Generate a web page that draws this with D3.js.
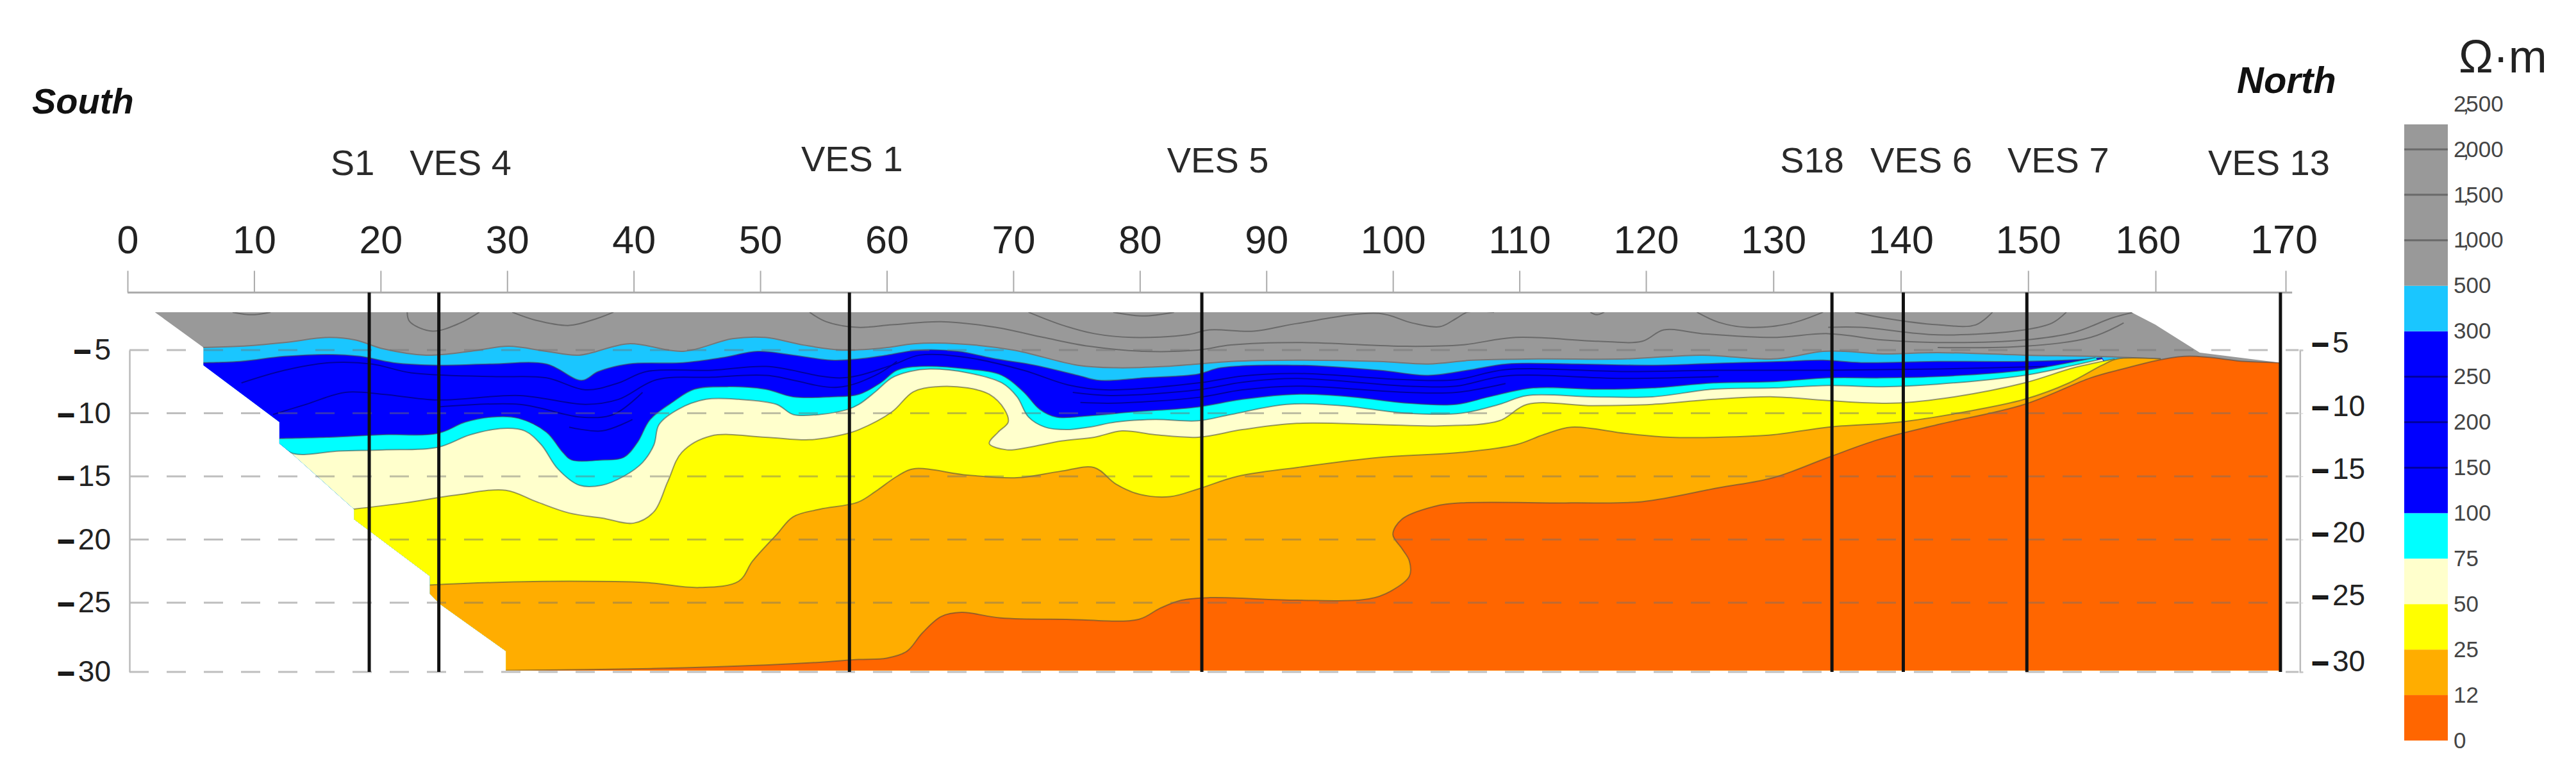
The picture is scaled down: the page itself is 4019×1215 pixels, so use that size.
<!DOCTYPE html>
<html>
<head>
<meta charset="utf-8">
<title>Resistivity section</title>
<style>
    html, body { margin: 0; padding: 0; background: #fff; }
    svg { display: block; }
    text { font-family: "Liberation Sans", Arial, sans-serif; }
</style>
<script src="https://d3js.org/d3.v7.min.js"></script>
</head>
<body>
<script>
// distance along the profile (m) and depth (m)
var xTicks = [0,10,20,30,40,50,60,70,80,90,100,110,120,130,140,150,160,170];
var depthTicks = [-5,-10,-15,-20,-25,-30];

var soundingNames = ["S1","VES 4","VES 1","VES 5","S18","VES 6","VES 7","VES 13"];
var soundingDist = [19.1,24.6,57.05,84.9,134.6,140.2,149.9,169.6];

var levels = ["0","12","25","50","75","100","150","200","250","300","500","1,000","1,500","2,000","2,500"];
var bandColors = ["#ff6600","#ffad00","#ffff00","#ffffcc","#00ffff","#0000ff","#0000ff","#0000ff","#0000ff","#1ac6ff","#999999","#999999","#999999","#999999"];

// outline of the inverted section
var outline = [[2.16,-2],[6,-4.8],[6,-6.2],[12,-10.7],[12,-12.4],[13.1,-13.3],[17.9,-17.6],[17.9,-18.4],[23.9,-22.9],[23.9,-24.3],[24.7,-25.1],[29.9,-28.5],[29.9,-29.9],[169.6,-29.9],[169.6,-6],[163.4,-5.2],[160,-3],[158.1,-2]];

// top edge of each layer, from the most resistive down
var top300to500 = [[5.9,-4.8],[8.9,-4.7],[12.4,-4.4],[15.9,-4],[18,-4.2],[20.2,-4.9],[23.6,-5.4],[27.1,-5.1],[30.1,-4.7],[33.1,-5.1],[35.7,-5.4],[39.6,-4.5],[43.9,-5.1],[47.8,-4.1],[50.4,-4],[53.4,-4.6],[56.5,-5],[60,-4.8],[62.1,-4.5],[65.6,-4.5],[70,-5],[75.1,-6.2],[78.1,-6.4],[82,-6.3],[84.6,-6.1],[87.2,-5.9],[92.4,-5.8],[98.9,-5.9],[102.8,-6.1],[106.3,-5.8],[111.5,-5.7],[118.4,-5.7],[124.4,-5.4],[130,-5.7],[133.9,-5.1],[135.6,-5.1],[138.6,-5.3],[142.9,-5.2],[149.7,-5.4],[155.3,-5.5],[160.4,-5.7]];
var top100to300 = [[5.9,-6],[8.9,-5.9],[12.4,-5.5],[15.9,-5.35],[18.4,-5.5],[21,-6],[24.5,-6.2],[28.8,-6.1],[33.1,-6.1],[35.9,-7.4],[37.2,-6.7],[39.6,-6.1],[43.9,-6],[47,-5.6],[49.8,-5.1],[52.6,-5.4],[55.6,-5.8],[57.8,-5.7],[60,-5.4],[62.6,-5],[65.6,-5.1],[68.6,-5.7],[71.7,-6.2],[75.1,-7],[76.8,-7.4],[80.3,-7.2],[84.6,-6.9],[86.4,-6.4],[92.4,-6.2],[98.9,-6.6],[102.8,-7],[105.9,-6.6],[109,-6.1],[114.1,-6.1],[120.5,-6.2],[125.5,-6.05],[130.9,-5.9],[133.9,-5.8],[136.9,-6],[142.9,-5.9],[149.7,-5.9],[154.9,-5.7],[155.8,-5.6]];
var top75to100 = [[11.9,-12],[15.9,-11.9],[20.2,-11.7],[24.5,-11.6],[26.7,-10.7],[28.8,-10.3],[30.9,-10.4],[33.1,-11.5],[34.4,-13.1],[35.1,-13.7],[37.5,-13.7],[39.2,-13.5],[40.3,-12.3],[41.3,-10.5],[43.1,-9.1],[44.8,-8.1],[47.4,-7.9],[50.4,-8.1],[52.6,-8.7],[55.6,-8.7],[57.8,-8.5],[59.5,-7.6],[60.8,-6.6],[62.6,-6.3],[66.4,-6.5],[69.1,-7],[70.8,-8.3],[72.1,-9.7],[73.4,-10.3],[76,-10.2],[79.4,-9.9],[84.6,-9.5],[88.1,-8.9],[92.4,-8.5],[96.7,-8.7],[101.1,-9.2],[105,-9.3],[107.6,-8.7],[111.1,-8],[116.2,-8.1],[120.5,-8],[125.3,-7.6],[130,-7.5],[134.3,-7.2],[138.6,-7.2],[142.9,-7.1],[149.7,-6.6],[153.2,-6],[155.3,-5.6]];
var top50to75 = [[11.9,-12.4],[13.1,-13.2],[16.7,-13],[20.2,-12.9],[24.5,-12.7],[27.1,-11.7],[29.7,-11.2],[31.4,-11.4],[32.7,-12.5],[34,-14.4],[35.7,-15.7],[37.5,-15.7],[39.2,-15],[40.7,-13.9],[41.6,-12.5],[42,-10.9],[43.5,-9.7],[45.7,-8.9],[48.3,-8.9],[51.3,-9.3],[52.6,-10.1],[54.7,-10.1],[56.9,-9.7],[57.8,-9.3],[59.1,-8.3],[60.4,-7.2],[61.8,-6.7],[63.4,-6.5],[66.4,-6.8],[69.1,-7.6],[70.3,-8.7],[71.2,-10.3],[72.5,-11.1],[74.2,-11.3],[76,-11.1],[78.1,-10.7],[81.2,-10.5],[84.6,-10.6],[87.2,-10.1],[91.6,-9.3],[95.9,-9.4],[101.1,-10],[105.4,-10],[108.4,-9.3],[110.6,-8.6],[115.8,-8.7],[120.5,-8.7],[125.3,-8.1],[130,-8],[134.3,-7.8],[138.6,-7.9],[142.9,-7.7],[149.7,-7],[153.6,-6.2],[155.8,-5.7]];
var top25to50 = [[17.8,-17.6],[21.9,-17.1],[25.8,-16.5],[29.9,-16.1],[32.3,-17],[34.9,-17.9],[37.5,-18.3],[40,-18.7],[41.6,-17.8],[42.7,-15.4],[43.8,-13.1],[46.1,-11.8],[50.4,-11.9],[53.9,-12.1],[56.5,-11.7],[57.8,-11.3],[60.4,-9.9],[62.1,-8.3],[63.9,-7.9],[66.4,-8],[68.1,-8.5],[69.3,-9.7],[69.6,-10.7],[68.8,-11.5],[68.1,-12.4],[69.5,-12.9],[71.2,-12.7],[73.8,-12.2],[76.4,-11.9],[78.6,-11.4],[81.2,-11.7],[84.6,-11.9],[88.1,-11.3],[92.4,-10.8],[98.9,-10.9],[103.7,-11],[108.4,-10.6],[110.6,-9.3],[115.8,-9.4],[120.5,-9.3],[125.3,-8.9],[130,-8.7],[134.3,-9],[139.4,-9.2],[144.2,-8.7],[149.7,-7.6],[153.6,-6.4],[156.8,-5.7]];
var top12to25 = [[23.8,-23.6],[28.8,-23.4],[34.9,-23.3],[40.9,-23.4],[45.2,-23.8],[48.3,-23.3],[49.4,-21.7],[51.3,-19.6],[52.6,-18.2],[54.7,-17.6],[57.7,-17.05],[59.1,-16.2],[60.8,-15],[62.1,-14.4],[66.4,-14.9],[70.3,-15.1],[73.7,-14.6],[76.4,-14.3],[78.1,-15.6],[79.9,-16.4],[82.4,-16.6],[84.6,-16],[87.7,-15],[92.4,-14.3],[98.9,-13.5],[105.4,-13.1],[109.7,-12.5],[111.9,-11.7],[114.1,-11.1],[118.4,-11.6],[121.9,-11.9],[125.7,-11.9],[130,-11.7],[134.3,-11.1],[139.9,-10.7],[145,-9.9],[149.7,-8.9],[153.2,-7.6],[155.8,-6.2],[157,-5.7],[160.4,-5.7]];
var top0to12 = [[29.8,-29.9],[41.8,-29.75],[50.4,-29.5],[54.7,-29.3],[57.8,-29.1],[60,-29],[61.6,-28.5],[62.8,-27.2],[64.3,-26],[65.9,-25.7],[69,-26.1],[74.2,-26.2],[79.9,-26.2],[81.6,-25.4],[83.3,-24.8],[85.5,-24.6],[92.4,-24.8],[98.1,-24.7],[99.8,-24.1],[101.3,-22.9],[101.3,-21.7],[100.7,-20.7],[100,-19.6],[100.7,-18.4],[103.2,-17.4],[105.4,-17.1],[114.1,-17.1],[119.7,-17],[125.7,-15.9],[130,-15.1],[134.3,-13.5],[138.2,-12.1],[142.9,-10.9],[149.7,-9.3],[154.9,-7.2],[157,-6.6],[162.2,-5.5],[166.9,-5.9],[169.7,-6]];

var layerTops = [top300to500,top100to300,top75to100,top50to75,top25to50,top12to25,top0to12];
var layerColors = ["#1ac6ff","#0000ff","#00ffff","#ffffcc","#ffff00","#ffad00","#ff6600"];

// contour lines inside the grey band
var grayContours = [
    [[8.3,-2],[9.8,-2.2],[11.3,-2]],
    [[22.1,-2],[22.3,-2.75],[24.1,-3.5],[26.3,-2.85],[27.8,-2]],
    [[30.4,-2],[32.3,-2.65],[34.9,-3.05],[37.1,-2.5],[38.4,-2]],
    [[53.9,-2],[55.2,-2.75],[57.7,-3.2],[60.4,-3],[64.3,-2.75],[68.6,-3.2],[72.4,-4],[76,-4.7],[80.3,-5.1],[84.6,-5],[87.2,-4.6],[92.4,-4.4],[101.1,-4.7],[105.4,-4.6],[109.7,-4],[116.2,-4.3],[119.7,-4.3],[121.4,-3.4],[124.4,-3.7],[130,-4],[134.3,-3.7],[138.6,-4.2],[142.9,-4.4],[149.7,-4.2],[153.6,-3.6],[156.6,-2.45],[158.3,-2]],
    [[71.2,-2],[73.8,-3],[76.4,-3.7],[79.4,-4],[83.7,-3.8],[85.5,-3.4],[89,-3.5],[92.4,-2.9],[98.9,-2.1],[101.5,-2.85],[103.7,-3.15],[105,-2.5],[105.9,-2],[108,-2]],
    [[77.9,-2],[80.3,-2.3],[82.7,-2]],
    [[115.6,-2],[116.1,-2.2],[116.7,-2]],
    [[124,-2],[125.7,-2.8],[127.9,-3.2],[131.3,-2.9],[133.9,-2]],
    [[136.4,-2],[138.6,-2.45],[142.9,-3],[145.9,-3],[147.2,-2]],
    [[134.3,-3.2],[136.9,-3.2],[142.9,-3.8],[149.7,-3.4],[151.9,-2.85],[153,-2]],
    [[142.9,-4.8],[149.7,-4.7],[154.9,-4],[157.5,-2.85]]
];

// contour lines inside the blue band
var blueContours = [
    [[9,-7.6],[12.4,-6.6],[15.9,-6],[19.3,-6.1],[22.4,-6.8],[28.8,-7.1],[33.1,-7.2],[36.2,-8.15],[38.8,-7.6],[41,-6.7],[46.2,-6.6],[50.5,-6.3],[56.5,-7.2],[60.4,-6.2],[62.6,-5.4],[66.4,-5.6],[70.8,-6.6],[74.3,-7.75],[77.3,-8.15],[84.6,-7.6],[88.1,-7.05],[92.4,-6.85],[101.1,-7.35],[105,-7.35],[108.9,-6.55],[118.4,-6.7],[125.7,-6.6],[134.3,-6.6],[142.9,-6.5],[151.5,-6.3]],
    [[11.5,-10.1],[14.1,-9.3],[17.2,-8.35],[20.2,-8.5],[24.5,-8.95],[31,-8.6],[36.2,-9.3],[38.8,-8.9],[41.8,-7.35],[46.2,-7.15],[50.5,-7],[56.1,-7.95],[59.1,-7],[60.8,-5.9]],
    [[74.7,-8.35],[77.7,-8.6],[84.6,-8.15],[88.1,-7.55],[92.4,-7.25],[101.1,-7.85],[105,-7.85],[108.9,-7.05],[118.4,-7.25],[125.7,-7.1]],
    [[24.5,-9.5],[31,-9.3],[35.8,-10.3],[38.4,-10.1],[40.7,-8.35]],
    [[75.3,-9.15],[78.1,-9.2],[84.6,-8.75],[88.1,-8.15],[92.4,-7.85],[101.1,-8.35],[105,-8.35],[108.9,-7.65]],
    [[34.9,-11.1],[37.5,-11.4],[39.9,-10.5]]
];

var width = 4019;
var height = 1215;

// the source image is not quite evenly spaced, so both scales are piecewise
var x = d3.scaleLinear().domain([0,120,160,170]).range([199,2568,3363,3566]);
var y = d3.scaleLinear().domain([-30,-25,-5]).range([1048,940,546]);

var svg = d3.select("body").append("svg")
    .attr("width", width)
    .attr("height", height);

svg.append("clipPath").attr("id", "section")
    .append("polygon")
    .attr("points", outline.map(function(d) { return x(d[0]) + "," + y(d[1]); }).join(" "));

var line = d3.line()
    .x(function(d) { return x(d[0]); })
    .y(function(d) { return y(d[1]); })
    .curve(d3.curveCatmullRom.alpha(0.5));

var g = svg.append("g").attr("clip-path", "url(#section)");

// grey band first, then each layer painted over it
g.append("rect")
    .attr("x", x(0)).attr("y", y(0))
    .attr("width", x(171) - x(0))
    .attr("height", y(-31) - y(0))
    .attr("fill", "#999999");

g.selectAll(".gray-contour").data(grayContours).enter().append("path")
    .attr("class", "gray-contour")
    .attr("d", line)
    .attr("fill", "none")
    .attr("stroke", "#6a6a6a")
    .attr("stroke-width", 2);

layerTops.forEach(function(top, i) {
    var close = "L" + x(171) + "," + y(-31) + "L" + x(0) + "," + y(-31) + "Z";
    g.append("path")
        .attr("d", line(top) + close)
        .attr("fill", layerColors[i]);
    g.append("path")
        .attr("d", line(top))
        .attr("fill", "none")
        .attr("stroke", i == 0 ? "#777" : "rgba(70,70,70,0.55)")
        .attr("stroke-width", 2);
    if (i == 1) {
        g.selectAll(".blue-contour").data(blueContours).enter().append("path")
            .attr("class", "blue-contour")
            .attr("d", line)
            .attr("fill", "none")
            .attr("stroke", "#0000a0")
            .attr("stroke-width", 2);
    }
});

// dashed depth lines
svg.selectAll(".grid").data(depthTicks).enter().append("line")
    .attr("class", "grid")
    .attr("x1", x(0) + 3)
    .attr("x2", x(171))
    .attr("y1", function(d) { return y(d); })
    .attr("y2", function(d) { return y(d); })
    .attr("stroke", "rgba(110,110,110,0.45)")
    .attr("stroke-width", 3)
    .attr("stroke-dasharray", "30 28");

// top axis
var topY = y(-0.45);
var topAxis = svg.append("g")
    .attr("transform", "translate(0," + topY + ")")
    .call(d3.axisTop(x).tickValues(xTicks).tickSize(34).tickPadding(27).tickFormat(d3.format("d")));
topAxis.select(".domain").remove();
topAxis.selectAll("line").attr("stroke", "#aaa").attr("stroke-width", 2);
topAxis.selectAll("text")
    .attr("font-size", function(d) { return d == 170 ? 63 : 61; })
    .attr("fill", "#222")
    .attr("dx", function(d) { return d == 160 ? -12 : d == 170 ? -3 : 0; });
svg.append("line")
    .attr("x1", x(0)).attr("x2", x(170.5))
    .attr("y1", topY).attr("y2", topY)
    .attr("stroke", "#aaa").attr("stroke-width", 3);

function depthLabels(sel) {
    sel.selectAll("text")
        .attr("font-size", 46)
        .attr("fill", "#222")
        .each(function(d) {
            var t = d3.select(this).text(null);
            t.append("tspan").attr("font-weight", "bold").attr("stroke", "#111").attr("stroke-width", 2).text("\u2013");
            t.append("tspan").attr("dx", 6).text(Math.abs(d));
        });
}

// left depth axis
var leftAxis = svg.append("g")
    .attr("transform", "translate(" + (x(0) + 3) + ",0)")
    .call(d3.axisLeft(y).tickValues(depthTicks).tickSize(0).tickPadding(29))
    .call(depthLabels);
leftAxis.select(".domain").attr("stroke", "#bbb").attr("stroke-width", 2.5);

// right depth axis, its labels sit a little above the lines
var rightAxis = svg.append("g")
    .attr("transform", "translate(" + x(171.1) + ",0)")
    .call(d3.axisRight(y).tickValues(depthTicks).tickSize(5).tickPadding(14))
    .call(depthLabels);
rightAxis.select(".domain").attr("stroke", "#bbb").attr("stroke-width", 2.5);
rightAxis.selectAll("line").attr("stroke", "#ccc");
rightAxis.selectAll("text")
    .attr("transform", function(d) { return "translate(0," + (d == -30 ? -16 : -11) + ")"; });

// sounding lines and their names
var nameShift = [-26,34,4,25,-31,28,49,-18];
var nameBase = [273,273,267,269,269,269,269,273];

svg.selectAll(".sounding").data(soundingDist).enter().append("line")
    .attr("class", "sounding")
    .attr("x1", function(d) { return x(d); })
    .attr("x2", function(d) { return x(d); })
    .attr("y1", topY)
    .attr("y2", y(-30))
    .attr("stroke", "#111")
    .attr("stroke-width", 5);

svg.selectAll(".sounding-name").data(soundingNames).enter().append("text")
    .attr("class", "sounding-name")
    .attr("x", function(d, i) { return x(soundingDist[i]) + nameShift[i]; })
    .attr("y", function(d, i) { return nameBase[i]; })
    .attr("text-anchor", "middle")
    .attr("font-size", 56)
    .attr("fill", "#2a2a2a")
    .text(function(d) { return d; });

svg.append("text").attr("x", 50).attr("y", 177)
    .attr("font-size", 56).attr("font-weight", "bold").attr("font-style", "italic").attr("fill", "#111")
    .text("South");
svg.append("text").attr("x", 3490).attr("y", 145)
    .attr("font-size", 58).attr("font-weight", "bold").attr("font-style", "italic").attr("fill", "#111")
    .text("North");

// colour bar, evenly spaced by level
var barLeft = 3751;
var barRight = 3819;
var barTop = 194;
var levelY = d3.scalePoint().domain(levels).range([1155, 162]);

var bar = svg.append("g");
bar.selectAll("rect").data(bandColors).enter().append("rect")
    .attr("x", barLeft)
    .attr("width", barRight - barLeft)
    .attr("y", function(d, i) { return Math.max(levelY(levels[i + 1]), barTop); })
    .attr("height", function(d, i) { return levelY(levels[i]) - Math.max(levelY(levels[i + 1]), barTop); })
    .attr("fill", function(d) { return d; });
bar.selectAll("line").data(levels.slice(1, -1)).enter().append("line")
    .attr("x1", barLeft).attr("x2", barRight)
    .attr("y1", function(d) { return levelY(d); })
    .attr("y2", function(d) { return levelY(d); })
    .attr("stroke", function(d, i) { return i >= 10 ? "#6a6a6a" : i >= 5 && i < 8 ? "#0000a0" : "none"; })
    .attr("stroke-width", 3);

var barAxis = svg.append("g")
    .attr("transform", "translate(" + barRight + ",0)")
    .call(d3.axisRight(levelY).tickSize(0).tickPadding(9));
barAxis.select(".domain").remove();
barAxis.selectAll("text")
    .attr("font-size", 35)
    .attr("fill", "#444")
    .each(function(d) {
        // the thousands comma is squeezed in between the digits in the original
        var parts = d.split(",");
        if (parts.length == 2) {
            var t = d3.select(this).text(parts[0]);
            t.append("tspan").attr("dx", -5).text(",");
            t.append("tspan").attr("dx", -5).text(parts[1]);
        }
    });

svg.append("text").attr("x", 3836).attr("y", 113)
    .attr("font-size", 72).attr("fill", "#222")
    .text("\u03a9\u00b7m");
</script>
</body>
</html>
